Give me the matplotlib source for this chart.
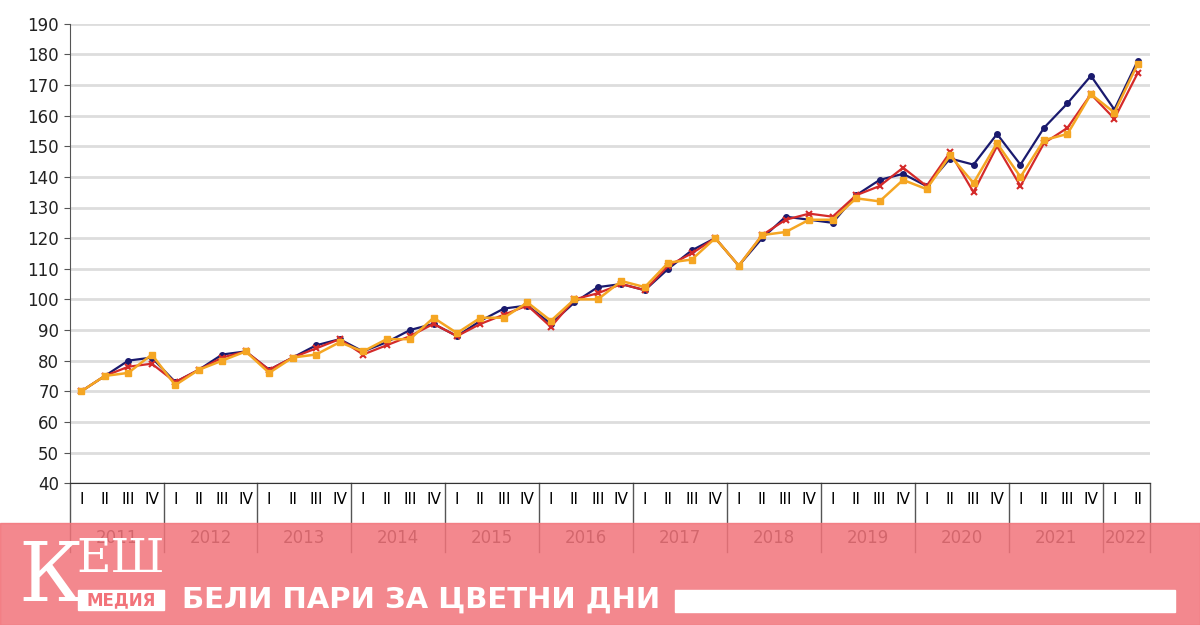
import matplotlib
matplotlib.use("Agg")
import matplotlib.pyplot as plt
from matplotlib.transforms import blended_transform_factory
from matplotlib.patches import Rectangle

years = ["2011","2012","2013","2014","2015","2016","2017","2018","2019","2020","2021","2022"]
quarters = ["I","II","III","IV"]
navy = [70,75,80,81, 73,77,82,83, 77,81,85,87, 83,86,90,92, 88,93,97,98, 92,99,104,105,
        103,110,116,120, 111,120,127,126, 125,134,139,141, 137,146,144,154, 144,156,164,173, 162,178]
red = [70,75,78,79, 73,77,81,83, 77,81,84,87, 82,85,88,92, 88,92,95,98, 91,100,102,105,
       103,111,115,120, 111,121,126,128, 127,134,137,143, 137,148,135,150, 137,151,156,167, 159,174]
orange = [70,75,76,82, 72,77,80,83, 76,81,82,86, 83,87,87,94, 89,94,94,99, 93,100,100,106,
          104,112,113,120, 111,121,122,126, 126,133,132,139, 136,147,138,151, 140,152,154,167, 161,177]

fig = plt.figure(figsize=(12, 6.25), dpi=100)
ax = fig.add_axes([0.058, 0.227, 0.9, 0.735])
x = list(range(len(navy)))
ax.plot(x, navy, color="#1a1a6e", lw=1.6, marker="o", ms=4, zorder=3)
ax.plot(x, red, color="#d42a2a", lw=1.6, marker="x", ms=5, mew=1.5, zorder=4)
ax.plot(x, orange, color="#f5a623", lw=1.8, marker="s", ms=4.5, zorder=5)
ax.set_xlim(-0.5, 45.5)
ax.set_ylim(40, 190)
ax.set_yticks(range(40, 191, 10))
ax.tick_params(axis="y", labelsize=12, length=4, color="#555555", labelcolor="#222222")
ax.grid(axis="y", color="#dddddd", lw=2)
ax.set_xticks([])
for s in ["top", "right"]:
    ax.spines[s].set_visible(False)
ax.spines["left"].set_color("#555555")
ax.spines["bottom"].set_color("#333333")

tr = blended_transform_factory(ax.transData, ax.transAxes)
for i in x:
    ax.text(i, -0.035, quarters[i % 4], transform=tr, ha="center", va="center", fontsize=11, clip_on=False)
for k, yname in enumerate(years):
    start = -0.5 + 4*k
    end = min(start + 4, 45.5)
    ax.text((start+end)/2, -0.12, yname, transform=tr, ha="center", va="center", fontsize=12, color="#222222")
    ax.plot([start, start], [0, -0.15], transform=tr, color="#555555", lw=1, clip_on=False)
ax.plot([45.5, 45.5], [0, -0.15], transform=tr, color="#555555", lw=1, clip_on=False)

# banner overlay
fig.patches.append(Rectangle((0, 0), 1, 102/625, transform=fig.transFigure, color="#f2737a", alpha=0.85, zorder=10))
fig.patches.append(Rectangle((675/1200, 13/625), 500/1200, 22/625, transform=fig.transFigure, color="white", zorder=11))
fig.text(18/1200, 47/625, "К", fontsize=60, color="white", family="DejaVu Serif", va="center", zorder=12)
fig.text(76/1200, 66/625, "ЕШ", fontsize=34, color="white", family="DejaVu Serif", va="center", zorder=12)
fig.patches.append(Rectangle((78/1200, 15/625), 86/1200, 20/625, transform=fig.transFigure, color="white", zorder=11))
fig.text(121/1200, 25/625, "МЕДИЯ", fontsize=12, color="#f2737a", weight="bold", ha="center", va="center", zorder=12)
fig.text(182/1200, 25/625, "БЕЛИ ПАРИ ЗА ЦВЕТНИ ДНИ", fontsize=21, color="white", weight="bold", va="center", zorder=12)

fig.savefig("out.png")
